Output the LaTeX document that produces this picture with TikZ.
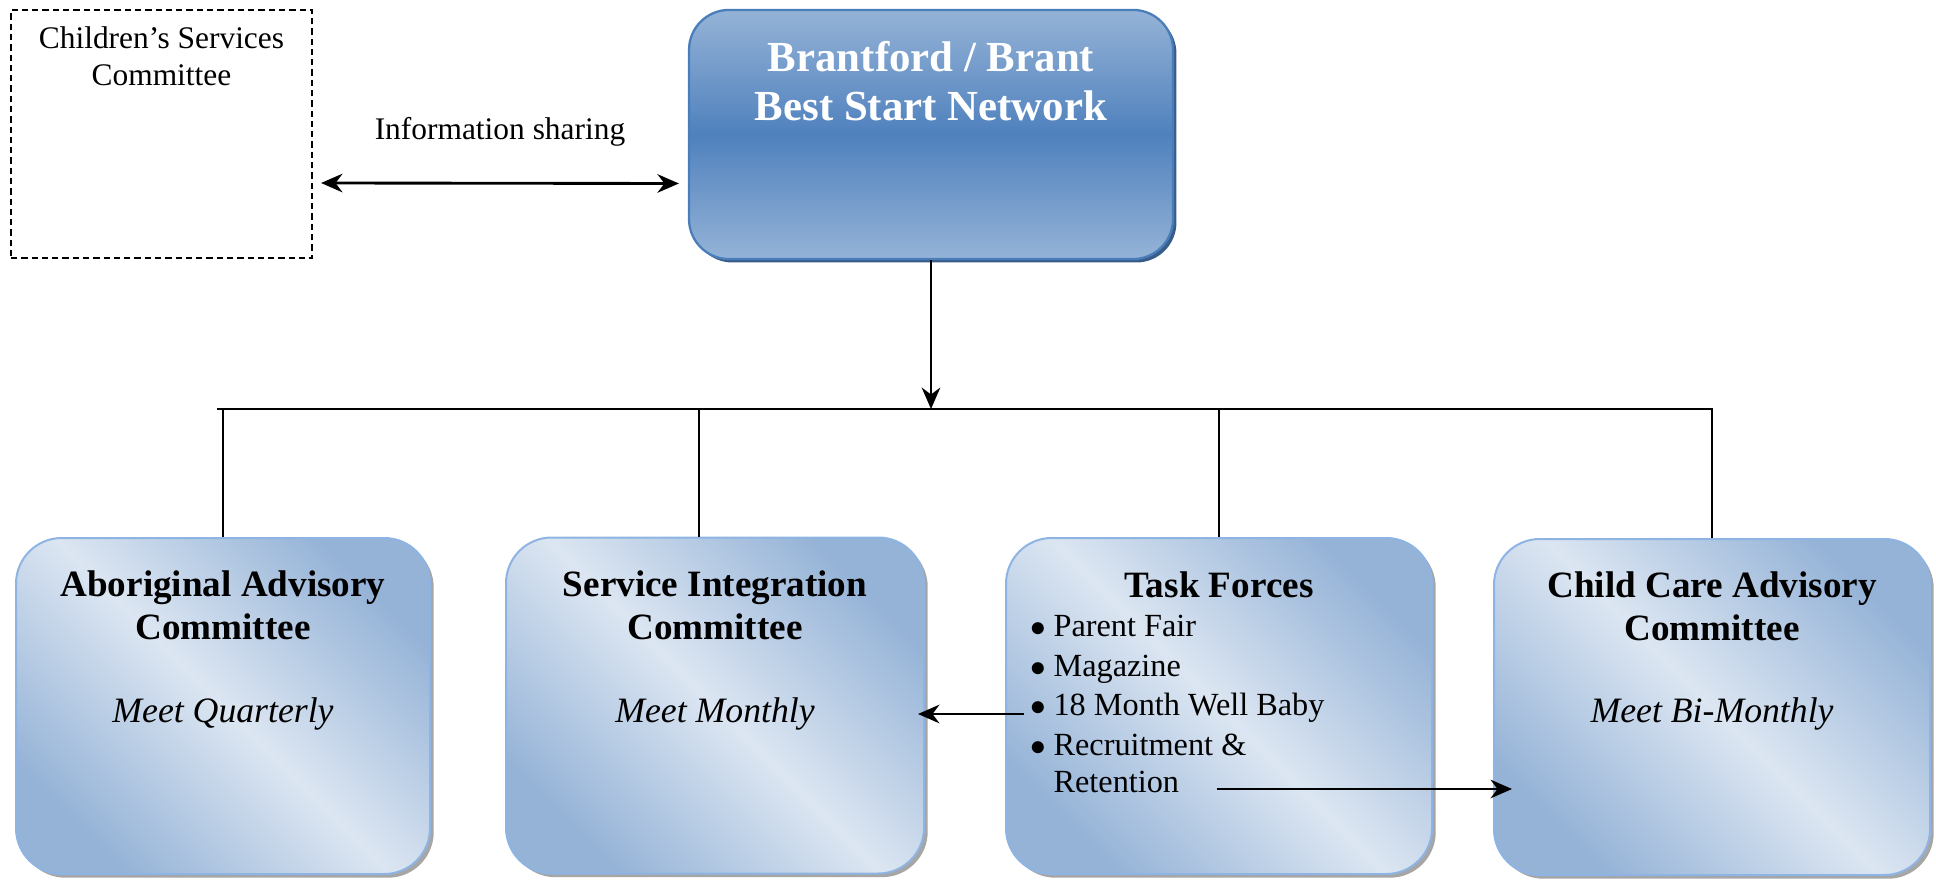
\documentclass[tikz,border=0pt]{standalone}
\usepackage{fontspec}
\setmainfont{Liberation Serif}
\usetikzlibrary{arrows.meta,positioning,shadows,calc}
\definecolor{netblue}{HTML}{4F81BD}
\definecolor{netlight}{HTML}{95B3D7}
\definecolor{netedge}{HTML}{4A7EBB}
\definecolor{netshade}{HTML}{385D8A}
\definecolor{cmtlight}{HTML}{DCE6F2}
\definecolor{cmtdark}{HTML}{95B3D7}
\definecolor{cmtedge}{HTML}{8EB4E3}
\tikzstyle{network} = [rectangle, rounded corners=14pt, draw=netedge, line width=0.8pt, top color=netlight, bottom color=netlight, middle color=netblue, drop shadow={shadow xshift=1.2pt, shadow yshift=-1.2pt, fill=netshade, opacity=1}, minimum width=169.4pt, minimum height=87.2pt]
\tikzstyle{committee} = [rectangle, rounded corners=16pt, draw=cmtedge, line width=0.7pt, top color=cmtdark, bottom color=cmtdark, middle color=cmtlight, shading angle=-45, drop shadow={shadow xshift=1.3pt, shadow yshift=-1.3pt, fill=black!35, opacity=1}, minimum height=117.6pt]
\tikzstyle{dashedbox} = [rectangle, draw=black, line width=0.7pt, dash pattern=on 2.2pt off 1.4pt, minimum width=105.4pt, minimum height=86.8pt]
\tikzstyle{nettitle} = [text=white, align=center, font=\fontsize{15}{17.2}\selectfont\bfseries]
\tikzstyle{cmttitle} = [align=center, font=\fontsize{13}{15}\selectfont\bfseries]
\tikzstyle{meet} = [font=\fontsize{12.5}{15}\selectfont\itshape]
\tikzstyle{plain} = [align=center, font=\fontsize{11}{13}\selectfont]
\tikzstyle{taskitem} = [anchor=base west, inner sep=0pt, font=\fontsize{11.3}{13.6}\selectfont]
\tikzstyle{arrow} = [line width=1pt,->,>={Stealth[length=7.5pt,width=6.5pt]}]
\tikzstyle{link} = [semithick]

\newcommand{\bul}{\makebox[5.6pt][l]{\hspace*{-2.5pt}$\bullet$}}

\begin{document}
\begin{tikzpicture}[x=0.35pt, y=-0.35pt]
    \useasboundingbox (0,0) rectangle (1936,882);

    \node (csc) [dashedbox] at (161.5,134) {};
    \node (csctext) [plain] at ($(csc.north)+(0,47)$) {Children's Services\\Committee};

    \node (bsn) [network] at (931,134.5) {};
    \node (bsntitle) [nettitle] at ($(bsn.north)+(0,72)$) {Brantford / Brant\\Best Start Network};

    \node (info) [plain] at (500,132) {Information sharing};

    \node (aac) [committee, minimum width=144.9pt] at (223,706) {};
    \node (sic) [committee, minimum width=146.3pt] at (715,705.5) {};
    \node (tf) [committee, minimum width=149.1pt] at (1219,706) {};
    \node (cca) [committee, minimum width=152.6pt] at (1712,707) {};

    \node (aactitle) [cmttitle] at ($(aac.north)+(0,68)$) {Aboriginal Advisory\\Committee};
    \node (aacmeet) [meet] at ($(aac.north)+(0,177)$) {Meet Quarterly};
    \node (sictitle) [cmttitle] at ($(sic.north)+(0,69)$) {Service Integration\\Committee};
    \node (sicmeet) [meet] at ($(sic.north)+(0,177)$) {Meet Monthly};
    \node (cctitle) [cmttitle] at ($(cca.north)+(0,68)$) {Child Care Advisory\\Committee};
    \node (ccmeet) [meet] at ($(cca.north)+(0,176)$) {Meet Bi-Monthly};

    \node (tftitle) [cmttitle] at ($(tf.north)+(0,48)$) {Task Forces};
    \node (fair) [taskitem] at ($(tf.north)+(-182,99)$) {\bul Parent Fair};
    \node (mag) [taskitem] at ($(tf.north)+(-182,139)$) {\bul Magazine};
    \node (baby) [taskitem] at ($(tf.north)+(-182,178)$) {\bul 18 Month Well Baby};
    \node (recr) [taskitem] at ($(tf.north)+(-182,218)$) {\bul Recruitment \&};
    \node (ret) [taskitem] at ($(tf.north)+(-166,255)$) {Retention};

    \coordinate (barL) at (217,409);
    \coordinate (barR) at (1713,409);

    \draw[<->, line width=1pt, >={Stealth[length=7.5pt,width=6.5pt]}] ($(csc.east)+(8,49)$) -- ($(bsn.west)+(-9,49)$);
    \draw[arrow] (bsn.south) -- (bsn.south |- barL);
    \draw[link] (barL) -- (barR);
    \draw[link] (aac.north |- barL) -- (aac.north);
    \draw[link] ($(sic.north |- barL)+(-16,0)$) -- ($(sic.north)+(-16,0)$);
    \draw[link] (tf.north |- barL) -- (tf.north);
    \draw[link] (cca.north |- barL) -- (cca.north);

    \draw[arrow] ($(baby.base west)+(-13,-1)$) -- ($(baby.base west -| sic.east)+(-7,-1)$);
    \draw[arrow] ($(ret.base east)+(37,-3)$) -- ($(ret.base east -| cca.west)+(19,-3)$);

  \end{tikzpicture}
\end{document}
